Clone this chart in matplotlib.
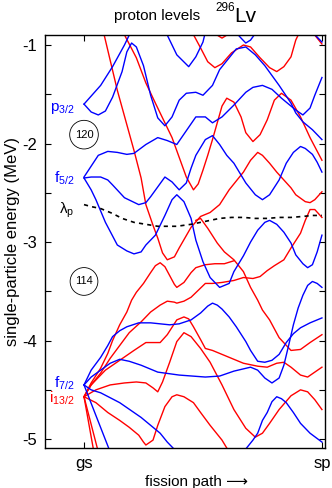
import matplotlib
matplotlib.use("Agg")
import matplotlib.pyplot as plt

plt.rcParams['font.family'] = ['Liberation Sans', 'DejaVu Sans']
plt.rcParams['mathtext.default'] = 'regular'
plt.rcParams['axes.unicode_minus'] = False

# fission path coordinate: gs = 0, sp = 1 ; energies in MeV
# ---- blue levels ----
p32_up = [(0, -1.60), (0.07, -1.41), (0.12, -1.22), (0.17, -1.00), (0.20, -0.85)]
p32_low = [(0, -1.60), (.03, -1.68), (.06, -1.71), (.09, -1.67), (.12, -1.53), (.16, -1.27),
           (.18, -1.07), (.20, -0.98), (.22, -1.02), (.25, -1.21), (.28, -1.51), (.31, -1.74),
           (.34, -1.82), (.37, -1.73), (.40, -1.56), (.43, -1.49), (.47, -1.48), (.50, -1.51),
           (.54, -1.41), (.57, -1.25), (.61, -1.13), (.64, -1.04), (.68, -1.02), (.72, -1.10),
           (.76, -1.21), (.82, -1.41), (.87, -1.59), (.89, -1.69), (.92, -1.78), (.96, -1.86),
           (1.0, -1.96)]
f52_a = [(0, -2.34), (.03, -2.23), (.06, -2.12), (.10, -2.08), (.14, -2.09), (.18, -2.11),
         (.21, -2.10), (.26, -2.01), (.31, -1.94), (.35, -1.97), (.39, -2.01), (.43, -1.87),
         (.47, -1.73), (.51, -1.73), (.54, -1.79), (.58, -1.73), (.63, -1.61), (.68, -1.48),
         (.71, -1.43), (.75, -1.41), (.79, -1.45), (.83, -1.54), (.89, -1.66), (.92, -1.71),
         (.95, -1.64), (.97, -1.51), (1.0, -1.33)]
f52_b = [(0, -2.35), (.03, -2.34), (.07, -2.34), (.10, -2.37), (.12, -2.42), (.17, -2.55),
         (.23, -2.62), (.26, -2.60), (.28, -2.54), (.31, -2.44), (.34, -2.34), (.37, -2.39),
         (.40, -2.47), (.43, -2.40), (.45, -2.25), (.47, -2.12), (.51, -1.96), (.54, -1.92),
         (.57, -2.01), (.60, -2.12), (.63, -2.20), (.68, -2.40), (.72, -2.52), (.75, -2.57),
         (.78, -2.52), (.82, -2.37), (.85, -2.20), (.88, -2.09), (.91, -2.03), (.93, -2.05),
         (.96, -2.11), (.98, -2.19), (1.0, -2.29)]
f52_c = [(0, -2.35), (.03, -2.47), (.05, -2.57), (.09, -2.80), (.14, -3.03), (.18, -3.09),
         (.21, -3.12), (.24, -3.10), (.26, -3.03), (.30, -2.93), (.34, -2.73), (.37, -2.57),
         (.39, -2.52), (.42, -2.59), (.45, -2.76), (.47, -2.98), (.50, -3.20), (.53, -3.36),
         (.57, -3.46), (.61, -3.42), (.63, -3.30), (.67, -3.14), (.70, -3.00), (.73, -2.88),
         (.76, -2.80), (.78, -2.78), (.81, -2.82), (.84, -2.90), (.87, -3.01), (.89, -3.13),
         (.92, -3.22), (.94, -3.26), (.96, -3.23), (.98, -3.10), (1.0, -2.93)]
blue_top1 = [(.33, -0.83), (.35, -0.90), (.39, -1.10), (.44, -1.22), (.47, -1.12), (.50, -0.97), (.51, -0.87)]
blue_top2 = [(.63, -0.85), (.66, -0.93), (.68, -0.98), (.70, -0.95), (.73, -0.85)]
blue_top3 = [(.96, -0.87), (1.0, -0.97)]
f72_a = [(0, -4.45), (.03, -4.30), (.07, -4.17), (.10, -4.05), (.12, -3.96), (.15, -3.90),
         (.18, -3.86), (.23, -3.82), (.28, -3.82), (.32, -3.83), (.36, -3.84), (.40, -3.83),
         (.45, -3.79), (.49, -3.72), (.52, -3.65), (.54, -3.62), (.56, -3.64), (.58, -3.68),
         (.61, -3.76), (.64, -3.86), (.68, -4.01), (.70, -4.10), (.73, -4.21), (.76, -4.22),
         (.79, -4.20), (.82, -4.14), (.85, -4.02), (.88, -3.93), (.91, -3.87), (.95, -3.82),
         (1.0, -3.77)]
f72_b = [(0, -4.45), (.03, -4.37), (.07, -4.30), (.11, -4.23), (.15, -4.19), (.19, -4.21),
         (.24, -4.25), (.31, -4.32), (.40, -4.35), (.51, -4.37), (.57, -4.36), (.63, -4.31),
         (.70, -4.27), (.73, -4.30), (.76, -4.38), (.79, -4.43), (.82, -4.38), (.84, -4.25),
         (.86, -4.05), (.88, -3.84), (.90, -3.67), (.92, -3.54), (.94, -3.44), (.96, -3.40),
         (.98, -3.42), (1.0, -3.46)]
f72_c = [(0, -4.45), (.03, -4.50), (.07, -4.53), (.11, -4.58), (.15, -4.63), (.21, -4.73),
         (.24, -4.78), (.28, -4.86), (.32, -4.94), (.35, -5.03), (.39, -5.13)]
f72_d = [(0, -4.45), (.05, -4.76), (.11, -5.13)]
blue_low = [(.67, -5.13), (.71, -5.01), (.73, -4.94), (.75, -4.81), (.77, -4.73), (.79, -4.62),
            (.81, -4.57), (.83, -4.59), (.85, -4.63), (.88, -4.73), (.91, -4.84), (.95, -4.94),
            (1.0, -5.03)]

# ---- red levels ----
red_diag1 = [(.08, -0.85), (.14, -1.46), (.21, -2.07), (.24, -2.35), (.26, -2.62), (.29, -2.83),
             (.31, -2.96), (.33, -3.11), (.35, -3.18), (.38, -3.15), (.40, -3.06), (.45, -2.85),
             (.49, -2.74), (.53, -2.70), (.57, -2.62), (.61, -2.47), (.67, -2.29), (.70, -2.17),
             (.73, -2.09), (.75, -2.12), (.78, -2.20), (.81, -2.29), (.87, -2.45), (.89, -2.52),
             (.93, -2.59), (.95, -2.60), (.97, -2.57), (1.0, -2.49)]
red_diag2 = [(.16, -0.85), (.22, -1.13), (.26, -1.385), (.30, -1.59), (.34, -1.79), (.37, -1.94),
             (.40, -2.14), (.43, -2.34), (.46, -2.47), (.48, -2.41), (.50, -2.27), (.52, -2.12),
             (.54, -1.96), (.56, -1.79), (.58, -1.62), (.60, -1.54), (.63, -1.58), (.66, -1.73),
             (.68, -1.89), (.71, -1.98), (.74, -1.91), (.77, -1.76), (.80, -1.56), (.83, -1.49),
             (.87, -1.56), (.91, -1.73), (.95, -1.94), (1.0, -2.17)]
red_top1 = [(.45, -0.85), (.49, -1.03), (.52, -1.17), (.55, -1.23), (.58, -1.19), (.62, -1.08),
            (.67, -1.00), (.70, -1.02), (.74, -1.13), (.78, -1.23), (.81, -1.27), (.84, -1.22),
            (.87, -1.12), (.89, -0.95), (.91, -0.85)]
red_top2 = [(.54, -0.87), (.58, -0.93), (.62, -0.87)]
red_top3 = [(.96, -0.87), (1.0, -0.99)]
red_mid = [(.47, -2.78), (.49, -2.76), (.52, -2.86), (.56, -3.01), (.59, -3.10), (.63, -3.18),
           (.67, -3.30), (.70, -3.46), (.73, -3.59), (.75, -3.69), (.78, -3.79), (.82, -3.97),
           (.87, -4.10), (.91, -4.09), (.95, -4.02), (1.0, -3.94)]
i132_a = [(0, -4.57), (.03, -4.43), (.07, -4.28), (.10, -4.13), (.12, -4.00), (.15, -3.84),
          (.18, -3.71), (.20, -3.59), (.22, -3.51), (.25, -3.42), (.28, -3.31), (.30, -3.24),
          (.32, -3.21), (.34, -3.25), (.36, -3.34), (.38, -3.43), (.39, -3.46), (.42, -3.41),
          (.45, -3.31), (.47, -3.26), (.51, -3.23), (.55, -3.22), (.59, -3.22), (.63, -3.19)]
i132_b = [(0, -4.57), (.03, -4.45), (.07, -4.33), (.11, -4.18), (.15, -4.05), (.19, -3.92),
          (.24, -3.81), (.28, -3.71), (.32, -3.64), (.35, -3.60), (.38, -3.61), (.39, -3.62),
          (.42, -3.60), (.45, -3.56), (.48, -3.49), (.51, -3.42), (.54, -3.42), (.58, -3.41),
          (.63, -3.39), (.67, -3.36), (.71, -3.37), (.74, -3.35), (.77, -3.29), (.80, -3.24),
          (.84, -3.18), (.87, -3.06), (.91, -2.91), (.93, -2.78), (.95, -2.67), (.97, -2.67),
          (1.0, -2.75)]
i132_c = [(0, -4.57), (.03, -4.45), (.09, -4.30), (.15, -4.20), (.21, -4.10), (.26, -4.02),
          (.32, -4.02), (.35, -3.94), (.39, -3.79), (.42, -3.76), (.44, -3.78), (.46, -3.86),
          (.49, -3.99), (.51, -4.08), (.54, -4.10), (.59, -4.15), (.67, -4.23), (.73, -4.26),
          (.77, -4.27), (.81, -4.23), (.84, -4.22), (.87, -4.27), (.91, -4.35), (.94, -4.37),
          (.97, -4.32), (1.0, -4.27)]
i132_d = [(0, -4.57), (.05, -4.50), (.11, -4.45), (.17, -4.43), (.22, -4.42), (.26, -4.43),
          (.29, -4.48), (.31, -4.52), (.33, -4.42), (.36, -4.22), (.39, -4.01), (.42, -3.92),
          (.45, -3.96), (.49, -4.08), (.53, -4.22), (.58, -4.45), (.63, -4.70), (.68, -4.89),
          (.72, -4.98), (.75, -4.94), (.78, -4.84), (.82, -4.70), (.87, -4.56), (.91, -4.50),
          (.94, -4.52), (.97, -4.60), (1.0, -4.70)]
i132_e = [(0, -4.57), (.05, -4.63), (.10, -4.73), (.15, -4.81), (.19, -4.88), (.23, -4.96),
          (.25, -5.03), (.26, -5.06), (.29, -5.01), (.31, -4.86), (.34, -4.67), (.37, -4.57),
          (.39, -4.55), (.42, -4.57), (.46, -4.63), (.49, -4.73), (.53, -4.86), (.58, -5.01),
          (.61, -5.13)]
i132_f = [(0, -4.57), (.04, -5.11)]
i132_g = [(0, -4.57), (.06, -5.13)]

# Fermi level
lam_x = [0, .03, .07, .12, .16, .21, .26, .31, .35, .39, .45, .49, .53, .57, .62, .67, .72,
         .77, .82, .87, .92, .96, 1.0]
lam_e = [-2.62, -2.64, -2.66, -2.71, -2.76, -2.80, -2.82, -2.84, -2.84, -2.84, -2.82, -2.80,
         -2.78, -2.76, -2.75, -2.75, -2.76, -2.76, -2.75, -2.75, -2.74, -2.73, -2.73]

blue_levels = [p32_up, p32_low, f52_a, f52_b, f52_c, blue_top1, blue_top2, blue_top3,
               f72_a, f72_b, f72_c, f72_d, blue_low]
red_levels = [red_diag1, red_diag2, red_top1, red_top2, red_top3, red_mid,
              i132_a, i132_b, i132_c, i132_d, i132_e, i132_f, i132_g]

fig = plt.figure(figsize=(3.32, 4.88), dpi=100)
ax = fig.add_axes([0.1355, 0.082, 0.8435, 0.846])

for lev in red_levels:
    ax.plot([p[0] for p in lev], [p[1] for p in lev], color='#ff0000', lw=1.0)
for lev in blue_levels:
    ax.plot([p[0] for p in lev], [p[1] for p in lev], color='#0000ff', lw=1.0)
ax.plot(lam_x, lam_e, color='black', lw=1.2, ls=(0, (2.5, 2.5)))

ax.set_xlim(-0.164, 1.013)
ax.set_ylim(-5.09, -0.9)
ax.set_xticks([0, 1])
ax.set_xticklabels(['gs', 'sp'], fontsize=12)
ax.set_yticks([-5, -4, -3, -2, -1])
ax.set_yticklabels(['-5', '-4', '-3', '-2', '-1'], fontsize=12)
ax.set_yticks([-4.5, -3.5, -2.5, -1.5], minor=True)
ax.tick_params(direction='in', top=True, right=True, length=4, width=0.8, pad=6)
ax.tick_params(which='minor', direction='in', right=True, length=4, width=0.8)
for s in ax.spines.values():
    s.set_linewidth(1.0)

ax.set_ylabel('single-particle energy (MeV)', fontsize=12, labelpad=1)
ax.set_xlabel('fission path \u27f6', fontsize=11, labelpad=3, x=0.54)

# level labels
ax.text(-0.04, -1.64, '$p_{3/2}$', color='#0000ff', fontsize=11, ha='right', va='center')
ax.text(-0.04, -2.35, '$f_{5/2}$', color='#0000ff', fontsize=11, ha='right', va='center')
ax.text(-0.04, -2.68, r'$\lambda_p$', color='black', fontsize=11, ha='right', va='center')
ax.text(-0.04, -4.43, '$f_{7/2}$', color='#0000ff', fontsize=11, ha='right', va='center')
ax.text(-0.04, -4.59, '$i_{13/2}$', color='#ff0000', fontsize=11, ha='right', va='center')
circ = dict(boxstyle='circle,pad=0.45', fc='white', ec='black', lw=0.6)
ax.text(0.0, -1.91, '120', fontsize=8, ha='center', va='center', bbox=circ)
ax.text(0.0, -3.40, '114', fontsize=8, ha='center', va='center', bbox=circ)

fig.text(0.473, 0.968, 'proton levels', fontsize=11, ha='center', va='center')
fig.text(0.648, 0.984, '296', fontsize=8.5, ha='left', va='center')
fig.text(0.706, 0.967, 'Lv', fontsize=15, ha='left', va='center')

fig.savefig('out.png', dpi=100)
